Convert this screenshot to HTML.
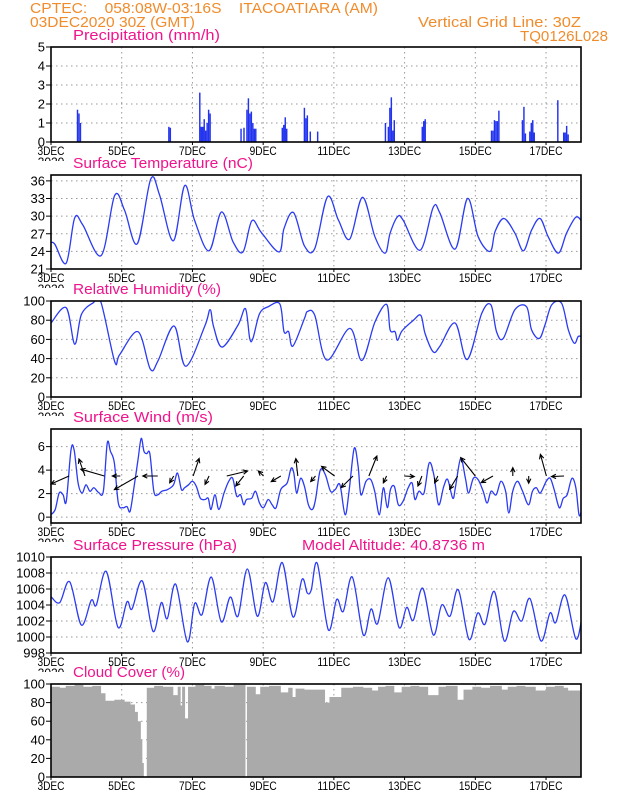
<!DOCTYPE html>
<html><head><meta charset="utf-8"><style>
html,body{margin:0;padding:0;background:#fff;}
svg{display:block;font-family:"Liberation Sans",sans-serif;}
</style></head><body>
<svg id="chart" width="618" height="800" viewBox="0 0 618 800" xmlns="http://www.w3.org/2000/svg">
<rect width="618" height="800" fill="#fff"/>
<g fill="#f08c2c" font-size="15">
<text x="30" y="13" textLength="348" lengthAdjust="spacingAndGlyphs" style="white-space:pre" xml:space="preserve">CPTEC:    058:08W-03:16S    ITACOATIARA (AM)</text>
<text x="30" y="27" textLength="165" lengthAdjust="spacingAndGlyphs">03DEC2020 30Z (GMT)</text>
<text x="418" y="27" textLength="163" lengthAdjust="spacingAndGlyphs">Vertical Grid Line: 30Z</text>
<text x="520" y="41" textLength="88" lengthAdjust="spacingAndGlyphs">TQ0126L028</text>
</g>
<g id="panels"></g>
</svg>
<script>
// ---------- data ----------
const dayLabels = ["3DEC","5DEC","7DEC","9DEC","11DEC","13DEC","15DEC","17DEC"];
const precipHours = [18,19,20,80,81,101,102,103,104,105,106,107,108,129,131,133,134,135,136,137,138,139,157,158,159,160,172,173,174,176,181,227,229,230,231,232,233,252,253,254,299,300,301,302,303,304,320,321,322,325,326,327,328,344,348,349,350,351];
const precipVals  = [1.7,1.5,1.0,0.8,0.75,2.6,0.8,0.8,1.2,0.6,1.0,1.7,1.5,0.7,0.75,1.7,2.3,1.5,1.6,1.0,0.7,0.7,0.75,0.9,1.3,0.7,1.8,1.25,1.4,0.55,0.55,1.0,0.8,1.8,2.35,0.6,1.15,0.8,1.1,1.2,0.6,0.6,1.15,1.1,1.1,1.65,1.15,1.85,0.45,0.55,1.0,1.15,0.5,2.2,0.5,0.5,0.85,0.4];
const tempDays = [0,0.11,0.43,0.67,0.9,1.42,1.8,2.08,2.44,2.82,3.07,3.46,3.78,4.06,4.47,4.82,5.15,5.43,5.68,5.95,6.45,6.59,6.86,7.17,7.46,7.82,8.13,8.45,8.81,9.16,9.45,9.59,9.8,9.96,10.44,10.81,11.0,11.43,11.78,12.08,12.42,12.56,12.81,13.12,13.36,13.59,13.83,14.06,14.35,14.58,14.84,15];
const tempVals = [25.5,25.2,22.0,29.7,28.5,23.3,33.5,31,25.3,36.3,33.6,25.8,35.2,29.3,24.1,30.7,25.6,23.9,29.2,27.2,23.9,27.9,30.6,24.9,24.5,33.3,29.3,26.1,33.2,26.5,23.7,27.1,29.9,29.3,24.2,31.5,30.5,24.4,33.0,26.5,24.0,27.4,29.6,27.1,24.1,27.6,29.6,26.5,23.7,27.1,29.8,29.2];
const rhDays = [0,0.43,0.67,0.86,1.19,1.41,1.8,1.94,2.46,2.81,3.03,3.48,3.81,4.35,4.5,4.6,4.84,5.29,5.5,5.62,5.71,5.9,6.14,6.47,6.59,6.72,6.84,7.17,7.25,7.46,7.8,8.45,8.79,9.16,9.49,9.59,9.73,9.8,9.93,10.25,10.46,10.58,10.81,11.0,11.43,11.77,12.18,12.44,12.6,12.79,13.12,13.45,13.59,13.81,13.97,14.16,14.44,14.63,14.8,14.91,15];
const rhVals = [77,93,55,86,98,99,37,44,68,29,38,74,32,74,91,73,52,75,92,61,61,87,94,97,68,68,53,82,89,85,38.5,71.5,38,78,96.5,70,68,59,69,80,85,66,47,53,77,39,87,96,68,61,91,94,70,61,75,96,97.6,70,56,63,63];
const windDays = [0,0.119,0.231,0.342,0.432,0.565,0.655,0.766,0.878,0.989,1.101,1.212,1.346,1.48,1.591,1.681,1.792,1.904,2.038,2.149,2.238,2.35,2.461,2.551,2.629,2.707,2.796,2.908,3.019,3.131,3.298,3.465,3.577,3.688,3.778,3.889,4.001,4.112,4.224,4.358,4.447,4.525,4.637,4.748,4.893,5.027,5.138,5.25,5.361,5.451,5.529,5.674,5.785,5.897,6.009,6.142,6.254,6.365,6.499,6.678,6.789,6.867,6.946,7.057,7.169,7.28,7.392,7.481,7.615,7.76,7.905,8.039,8.172,8.317,8.429,8.574,8.686,8.764,8.909,9.043,9.154,9.288,9.4,9.511,9.6,9.712,9.823,9.957,10.102,10.214,10.292,10.404,10.549,10.694,10.827,10.961,11.106,11.218,11.363,11.441,11.586,11.72,11.809,11.943,12.077,12.222,12.333,12.445,12.59,12.723,12.857,12.947,13.058,13.192,13.337,13.504,13.616,13.727,13.839,14.006,14.118,14.229,14.374,14.486,14.597,14.731,14.843,14.932,15];
const windVals = [0.2,0.65,2.05,1.9,1.35,5.7,5.7,2.9,2.05,2.75,2.2,2.5,2.1,2.2,6.3,5.6,4.6,1.2,0.8,0.9,0.5,2.6,4.9,6.7,5.6,5.4,5.4,2.2,1.9,2.2,2.35,2.75,3.75,2.35,2.5,2.75,3.05,2.6,1.6,1.5,1.6,0.65,1.9,0.65,2.05,3.05,3.3,1.8,1.9,1.05,1.5,1.6,2.2,1.2,0.8,1.5,1.05,0.8,2.35,2.9,4.15,3.75,2.05,3.3,2.6,1.05,0.65,1.5,4.0,3.6,2.2,2.35,2.75,0.2,2.2,5.85,4.3,1.9,3.05,3.2,2.2,0.2,2.5,0.8,2.35,2.6,1.05,1.35,2.5,2.9,1.5,2.2,2.05,4.6,3.6,1.05,2.6,3.2,1.6,2.6,5.0,3.3,2.05,3.3,3.2,2.2,1.2,2.2,1.9,3.05,2.2,0.35,2.2,3.05,2.2,1.05,2.2,2.5,2.05,3.05,3.3,2.35,0.8,1.6,1.9,3.3,2.5,0.2,0.5];
const arrowDays = [0.51,0.96,1.51,1.96,2.46,3.02,3.47,4.02,4.47,4.97,5.45,6.01,6.5,6.98,7.48,8.02,8.54,8.99,9.49,9.99,10.49,10.94,11.5,12.0,12.5,13.06,13.51,14.01,14.51];
const arrowU = [-4.5,-1.5,-5.9,-2,-5.9,-3.75,-1,1.5,-1,5.2,-2,-1.3,-2.4,-0.5,-1.2,-3.25,-2.95,2,-0.8,2.5,-1,-0.8,-2,-3.65,-2.95,0,0,-1.5,-3.15];
const arrowV = [-2,4.25,1.7,0,-3.4,0,-1.7,4.4,-2.1,1.25,-2.5,1.25,-1.4,4.35,-1.4,2.4,-2.9,5,-1.7,-0.15,-2.5,-1.7,-3.3,4.6,-1.65,2.1,-1.8,5.4,-0.15];
const presDays = [0.01,0.246,0.529,0.857,1.14,1.281,1.564,1.895,2.149,2.291,2.582,2.885,3.119,3.289,3.527,3.855,4.064,4.27,4.533,4.816,5.071,5.288,5.552,5.834,6.061,6.278,6.541,6.844,7.098,7.248,7.361,7.531,7.842,8.08,8.266,8.521,8.832,9.05,9.239,9.539,9.842,10.059,10.246,10.512,10.812,11.049,11.284,11.519,11.821,12.067,12.274,12.537,12.82,13.074,13.312,13.546,13.857,14.112,14.273,14.536,14.839,15];
const presVals = [1005.0,1004.3,1006.9,1001.5,1004.6,1004.0,1008.2,1001.2,1004.4,1003.5,1007.0,1000.7,1004.3,1002.3,1006.6,999.4,1004.2,1002.8,1007.5,1001.9,1005.0,1002.6,1008.5,1002.6,1006.8,1004.4,1009.3,1002.5,1007.2,1005.5,1005.9,1009.2,1000.9,1004.7,1003.2,1007.5,1000.25,1003.5,1001.7,1007.4,1001.2,1003.7,1002.1,1006.1,1000.25,1004.0,1002.6,1005.9,999.7,1003.0,1001.6,1005.7,999.5,1003.2,1002.0,1004.8,999.5,1003.0,1001.8,1005.25,999.8,1002.0];
const cloudHours = [0,6,10,16,22,28,34,37,43,50,54,57,59,61,62,63,65,70,76,83,86,88,89,91,93,98,104,109,111,118,124,132,133,139,142,148,156,161,164,166,172,179,186,189,197,205,212,218,222,227,233,238,244,250,256,263,268,276,280,286,292,298,306,310,316,322,329,336,342,348,351,360];
const cloudVals = [97,96,98,99,97,98,90,82,83,81,78,70,60,40,15,0,96,98,97,88,97,77,97,63,97,99,98,95,98,97,99,0,97,89,97,98,91,96,86,95,94,94,80,86,96,97,96,93,97,98,91,97,98,97,88,97,98,83,94,97,96,98,94,97,98,97,93,97,98,96,93];
const precipTicks = [0,1,2,3,4,5];
const tempTicks = [21,24,27,30,33,36];
const rhTicks = [0,20,40,60,80,100];
const windTicks = [0,2,4,6];
const presTicks = [998,1000,1002,1004,1006,1008,1010];
const cloudTicks = [0,20,40,60,80,100];

// ---------- helpers ----------
const NS="http://www.w3.org/2000/svg";
const root=document.getElementById('panels');
const X0=51, DAY=35.36, X1=581;
function xd(d){return X0+d*DAY;}
function mk(tag,attrs,parent){const e=document.createElementNS(NS,tag);for(const k in attrs)e.setAttribute(k,attrs[k]);(parent||root).appendChild(e);return e;}
function ys(p,v){return p.bottom-(v-p.min)/(p.max-p.min)*(p.bottom-p.top);}
function smooth(pts){let d="M"+pts[0][0].toFixed(2)+","+pts[0][1].toFixed(2);
 for(let i=0;i<pts.length-1;i++){const p0=pts[Math.max(0,i-1)],p1=pts[i],p2=pts[i+1],p3=pts[Math.min(pts.length-1,i+2)];
  const c1=[p1[0]+(p2[0]-p0[0])/6,p1[1]+(p2[1]-p0[1])/6],c2=[p2[0]-(p3[0]-p1[0])/6,p2[1]-(p3[1]-p1[1])/6];
  d+="C"+c1[0].toFixed(2)+","+c1[1].toFixed(2)+" "+c2[0].toFixed(2)+","+c2[1].toFixed(2)+" "+p2[0].toFixed(2)+","+p2[1].toFixed(2);}
 return d;}

function panel(p){
 const g=mk('g',{});
 
 
 const cid='clip-'+p.name;
 const cp=mk('clipPath',{id:cid},g); mk('rect',{x:X0,y:p.top,width:X1-X0,height:p.bottom-p.top},cp);
 p.g=g; p.clip='url(#'+cid+')';
 const t=mk('text',{x:73,y:p.top-7,fill:'#f0148c','font-size':15,textLength:p.tlen,lengthAdjust:'spacingAndGlyphs'},g);
 t.textContent=p.title;
 
 
 if(p.extra){const e=mk('text',{x:302,y:p.top-7,fill:'#f0148c','font-size':15,textLength:183,lengthAdjust:'spacingAndGlyphs'},g);
  e.textContent=p.extra;
  
  }
 return g;}

function gridAndAxes(p,ticks){
 const g=p.g;
 const grid=mk('g',{stroke:'#999','stroke-width':1,'stroke-dasharray':'1.5,3.5'},g);
 
 
 ticks.forEach(v=>{const y=ys(p,v); if(y>p.top+1&&y<p.bottom-1) mk('line',{x1:X0,x2:X1,y1:y,y2:y},grid);});
 for(let i=2;i<15;i+=2){mk('line',{x1:xd(i),x2:xd(i),y1:p.top,y2:p.bottom},grid);}
 const yl=mk('g',{'font-size':13,'text-anchor':'end',fill:'#000'},g);
 
 
 ticks.forEach(v=>{const y=ys(p,v);
  const t=mk('text',{x:45,y:y+4.5},yl); t.textContent=v;
  
  
  mk('line',{x1:46,x2:X0,y1:y,y2:y,stroke:'#000','stroke-width':1},yl);});
 const xl=mk('g',{'font-size':12,'text-anchor':'middle',fill:'#000'},g);
 
 
 dayLabels.forEach((lab,i)=>{const x=xd(i*2);
  const t=mk('text',{x:x,y:p.bottom+13,textLength:lab.length>4?33:27,lengthAdjust:'spacingAndGlyphs'},xl); t.textContent=lab;
  
  
  mk('line',{x1:x,x2:x,y1:p.bottom,y2:p.bottom+3,stroke:'#000'},xl);});
 if(p.name!=='cloud'){
  const cc=mk('clipPath',{id:'yr-'+p.name},g); mk('rect',{x:30,y:p.bottom+14,width:40,height:5},cc);
  const yr=mk('text',{x:51,y:p.bottom+24,'font-size':12,'text-anchor':'middle','clip-path':'url(#yr-'+p.name+')'},g); yr.textContent='2020';
  
  }
}
function frame(p){const f=mk('rect',{x:X0,y:p.top,width:X1-X0,height:p.bottom-p.top,fill:'none',stroke:'#000','stroke-width':1.6},p.g);
 
 }
function line(p,days,vals){const pts=days.map((d,i)=>[xd(d),ys(p,vals[i])]);
 const l=mk('path',{d:smooth(pts),fill:'none',stroke:'#2b3bf2','stroke-width':1.3,'clip-path':p.clip},p.g);
 
 }

const P1={name:'precipitation',title:'Precipitation (mm/h)',tlen:147,top:47,bottom:142,min:0,max:5};
const P2={name:'temperature',title:'Surface Temperature (nC)',tlen:180,top:175,bottom:269,min:21,max:37};
const P3={name:'humidity',title:'Relative Humidity (%)',tlen:148,top:301,bottom:397,min:0,max:100};
const P4={name:'wind',title:'Surface Wind (m/s)',tlen:140,top:429,bottom:523,min:-0.5,max:7.5};
const P5={name:'pressure',title:'Surface Pressure (hPa)',tlen:164,top:557,bottom:653,min:998,max:1010,extra:'Model Altitude: 40.8736 m'};
const P6={name:'cloud',title:'Cloud Cover (%)',tlen:112,top:684,bottom:777,min:0,max:100};

panel(P1); gridAndAxes(P1,precipTicks);
precipHours.forEach((h,i)=>{const x=xd((h-0.5)/24),y=ys(P1,precipVals[i]);
 const b=mk('rect',{x:x,y:y,width:1.45,height:P1.bottom-y,fill:'#2233ee'},P1.g);
 
 });
frame(P1);
panel(P2); gridAndAxes(P2,tempTicks); line(P2,tempDays,tempVals); frame(P2);
panel(P3); gridAndAxes(P3,rhTicks); line(P3,rhDays,rhVals); frame(P3);
panel(P4); gridAndAxes(P4,windTicks); line(P4,windDays,windVals);
const ag=mk('g',{stroke:'#000','stroke-width':1.1,fill:'none'},P4.g);


arrowDays.forEach((d,i)=>{const x=xd(d),y=ys(P4,3.5),hx=x+arrowU[i]*4,hy=y-arrowV[i]*4;
 const ang=Math.atan2(hy-y,hx-x),L=5;
 const a=mk('path',{d:`M${x},${y}L${hx},${hy}M${hx-L*Math.cos(ang-0.45)},${hy-L*Math.sin(ang-0.45)}L${hx},${hy}L${hx-L*Math.cos(ang+0.45)},${hy-L*Math.sin(ang+0.45)}`},ag);
 
 });
frame(P4);
panel(P5); gridAndAxes(P5,presTicks); line(P5,presDays,presVals); frame(P5);
panel(P6);
gridAndAxes(P6,cloudTicks);
let cd="M"+xd(0)+","+P6.bottom;
for(let i=0;i<cloudVals.length;i++){const xa=xd(cloudHours[i]/24),xb=xd(cloudHours[i+1]/24),y=ys(P6,cloudVals[i]);
 cd+="L"+xa.toFixed(2)+","+y.toFixed(2)+"L"+xb.toFixed(2)+","+y.toFixed(2);}
cd+="L"+xd(cloudHours[cloudHours.length-1]/24)+","+P6.bottom+"Z";
const ca=mk('path',{d:cd,fill:'#aaaaaa','clip-path':P6.clip},P6.g);


frame(P6);
</script>
</body></html>
